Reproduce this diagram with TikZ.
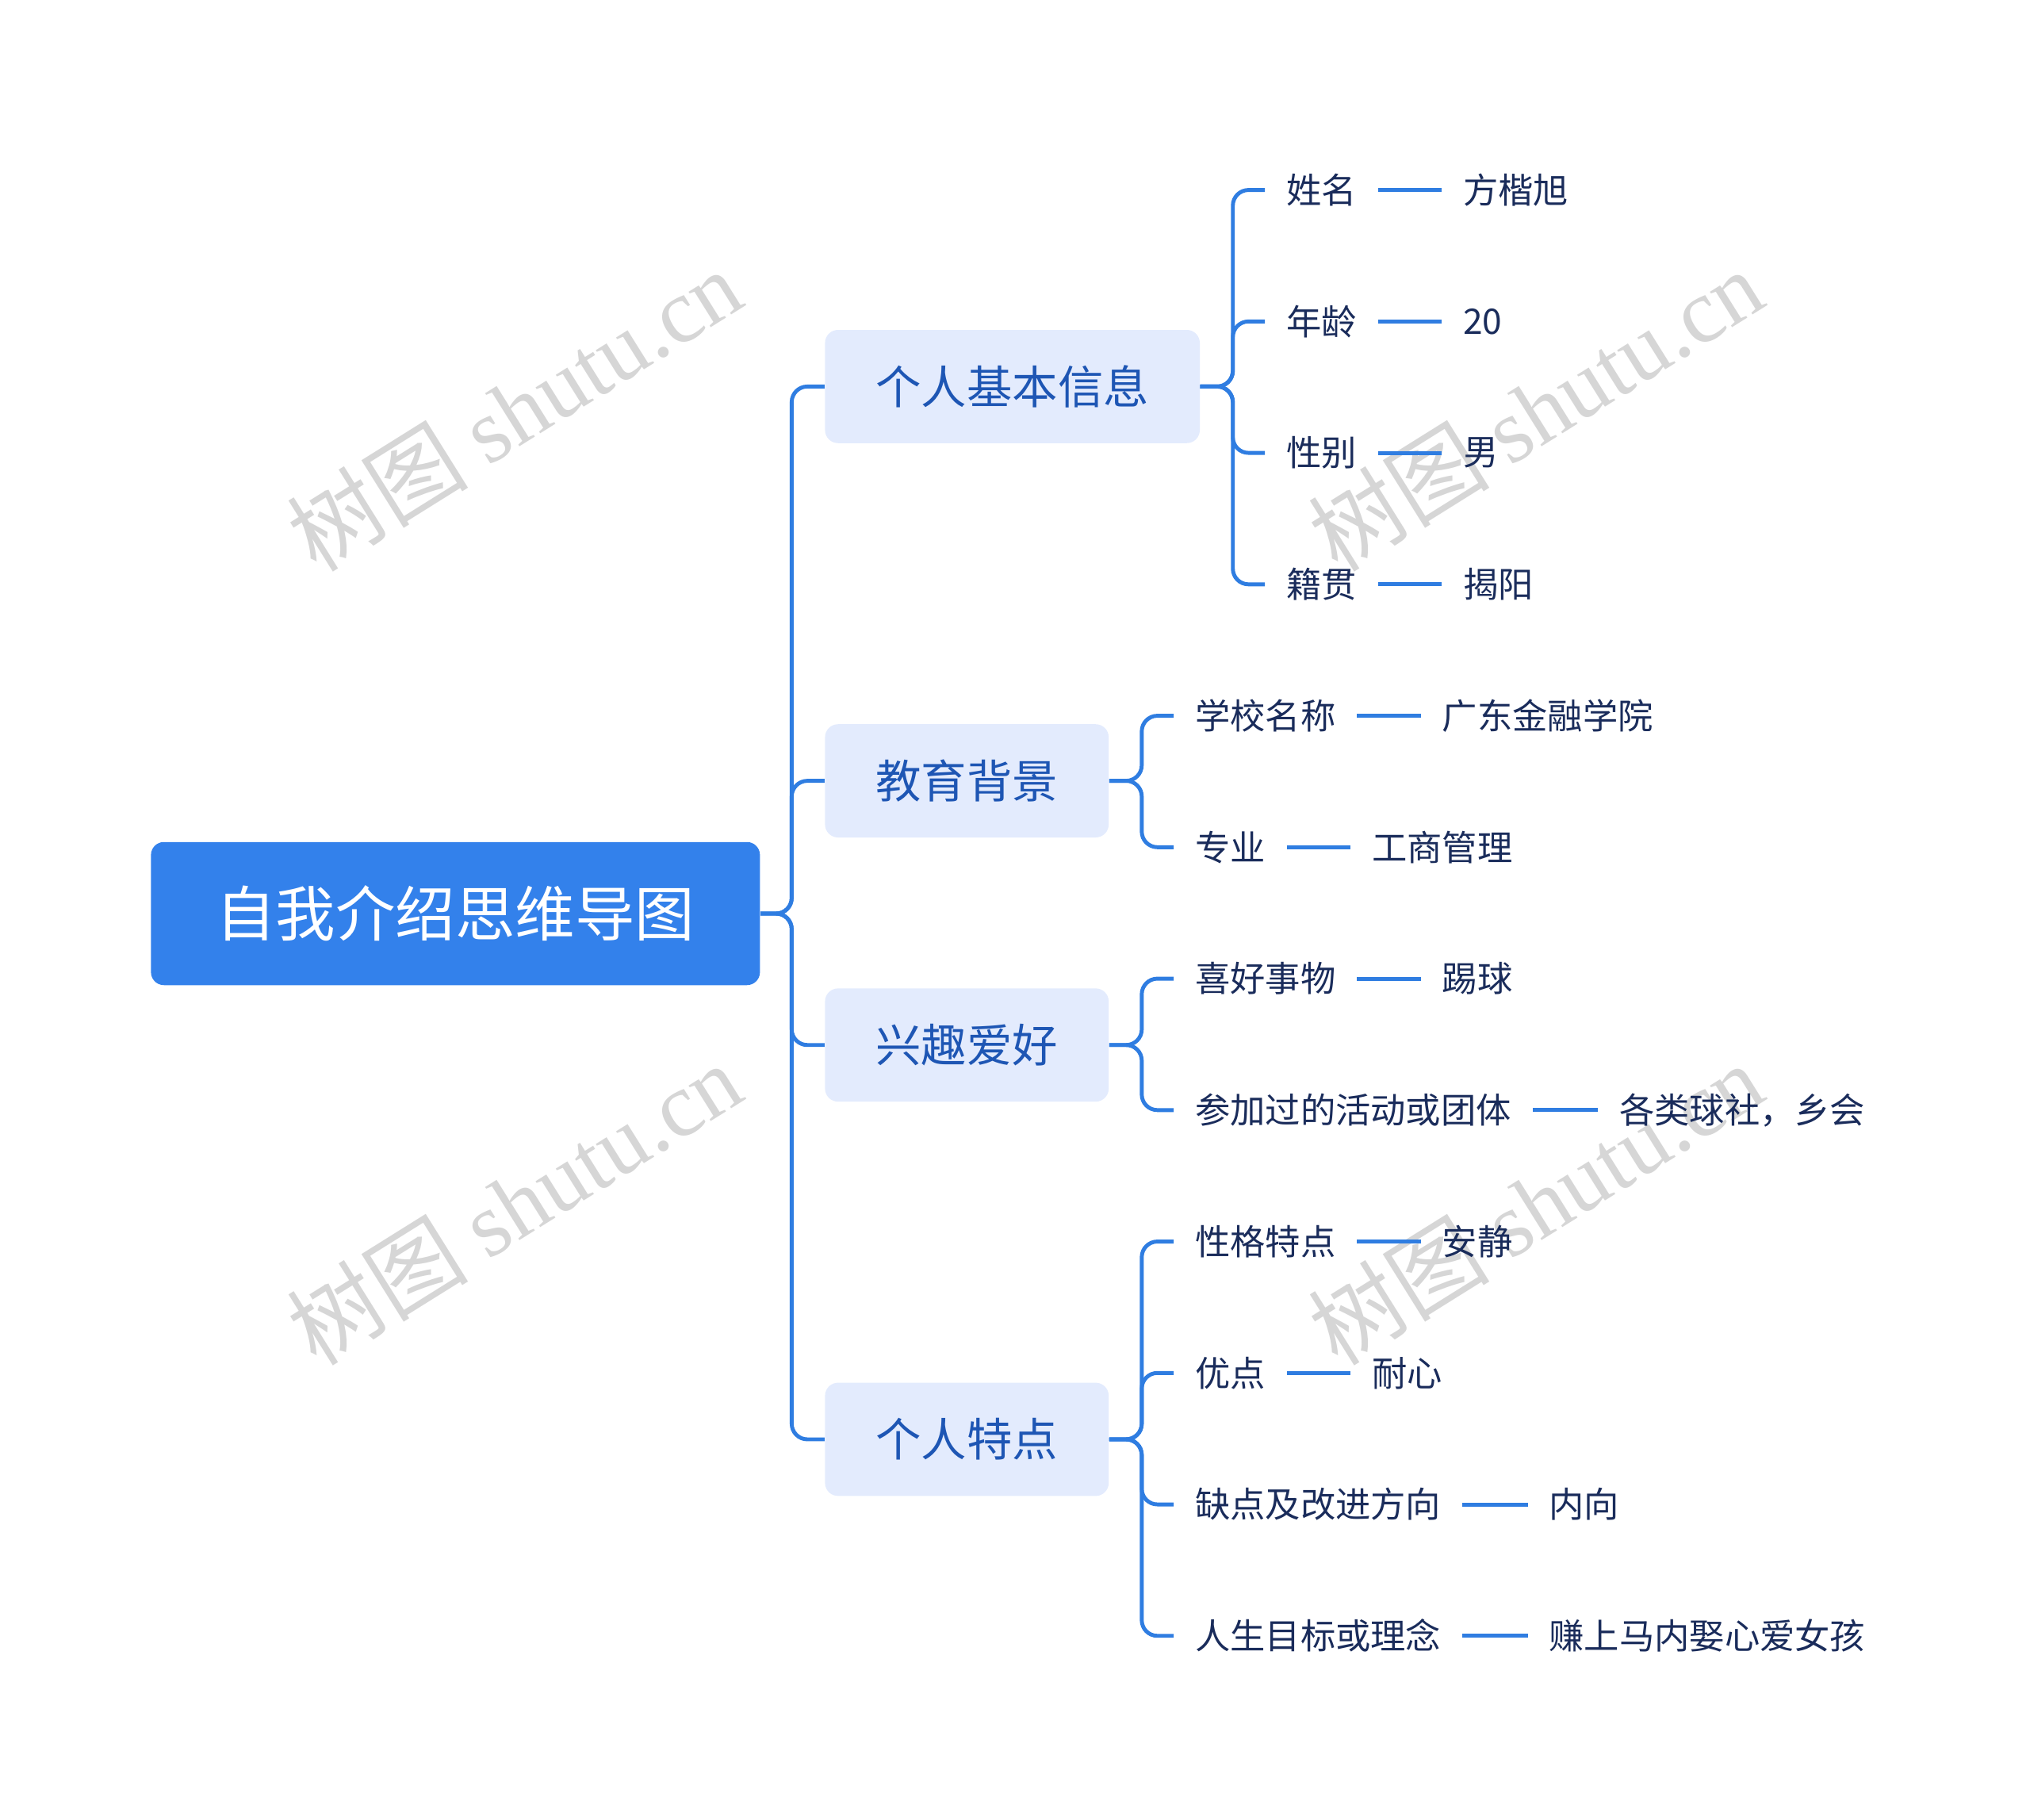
\documentclass[tikz,border=0pt]{standalone}
\usepackage{fontspec}
\setmainfont{Noto Sans CJK SC}
\newfontfamily\wmserif{Liberation Serif}
\usetikzlibrary{calc}
\definecolor{lnc}{HTML}{2F7DE1}
\definecolor{rootc}{HTML}{3381EB}
\definecolor{l1fill}{HTML}{E3EBFD}
\definecolor{l1txt}{HTML}{1E56B4}
\definecolor{leaftxt}{HTML}{1A2C5B}
\definecolor{wm}{HTML}{D6D6D6}
\begin{document}
\begin{tikzpicture}[x=0.5pt,y=-0.5pt,
  rootbox/.style={fill=rootc,rounded corners=5pt,text=white,font=\fontsize{23}{27}\selectfont,minimum width=234pt,minimum height=55pt,inner sep=0},
  lonebox/.style={fill=l1fill,rounded corners=5pt,text=l1txt,font=\fontsize{17.5}{21}\selectfont,minimum height=43.5pt,inner sep=0},
  leaf/.style={anchor=west,text=leaftxt,font=\fontsize{13.5}{16}\selectfont,inner xsep=8pt,inner ysep=2pt},
  conn/.style={draw=lnc,line width=1.5pt,rounded corners=6pt},
  wmark/.style={text=wm,rotate=32,font=\fontsize{35}{40}\selectfont}]
\useasboundingbox (0,0) rectangle (1560,1398);
\foreach \i/\x/\y in {1/395/315,2/1180/315,3/395/925,4/1180/925}
  \node[wmark] (wm\i) at (\x,\y) {树图 {\wmserif shutu.cn}};
\node[rootbox] (root) at (350,702) {自我介绍思维导图};
\node[lonebox,minimum width=144pt] (a) at (778,297) {个人基本信息};
\node[lonebox,minimum width=109pt] (b) at (743,600) {教育背景};
\node[lonebox,minimum width=109pt] (c) at (743,803) {兴趣爱好};
\node[lonebox,minimum width=109pt] (d) at (743,1106) {个人特点};
\foreach \n in {a,b,c,d}
  \draw[conn] (root.east) -- ++(24,0) |- (\n.west);
\node[leaf] (a1) at (972,146) {姓名};
\node[leaf] (a2) at (972,247) {年龄};
\node[leaf] (a3) at (972,348) {性别};
\node[leaf] (a4) at (972,449) {籍贯};
\node[leaf] (v1) at (1108,146) {方楷旭};
\node[leaf] (v2) at (1108,247) {20};
\node[leaf] (v3) at (1108,348) {男};
\node[leaf] (v4) at (1108,449) {揭阳};
\node[leaf] (b1) at (902,550) {学校名称};
\node[leaf] (b2) at (902,651) {专业};
\node[leaf] (w1) at (1092,550) {广东金融学院};
\node[leaf] (w2) at (1038,651) {工商管理};
\node[leaf] (c1) at (902,752) {喜好事物};
\node[leaf] (c2) at (902,853) {参加过的活动或团体};
\node[leaf] (x1) at (1092,752) {踢球};
\node[leaf] (x2) at (1228,853) {各类球社，乡会};
\node[leaf] (d1) at (902,954) {性格特点};
\node[leaf] (d2) at (902,1055) {优点};
\node[leaf] (d3) at (902,1156) {缺点及改进方向};
\node[leaf] (d4) at (902,1257) {人生目标或理念};
\node[leaf] (y1) at (1092,954) {安静};
\node[leaf] (y2) at (1038,1055) {耐心};
\node[leaf] (y3) at (1174,1156) {内向};
\node[leaf] (y4) at (1174,1257) {赚上马内娶心爱女孩};
\foreach \p/\l in {a/a1,a/a2,a/a3,a/a4,b/b1,b/b2,c/c1,c/c2,d/d1,d/d2,d/d3,d/d4}
  \draw[conn] (\p.east) -- ++(25,0) |- (\l.west);
\foreach \l/\v in {a1/v1,a2/v2,a3/v3,a4/v4,b1/w1,b2/w2,c1/x1,c2/x2,d1/y1,d2/y2,d3/y3,d4/y4}
  \draw[conn] (\l.east) -- (\v.west);
\end{tikzpicture}
\end{document}
